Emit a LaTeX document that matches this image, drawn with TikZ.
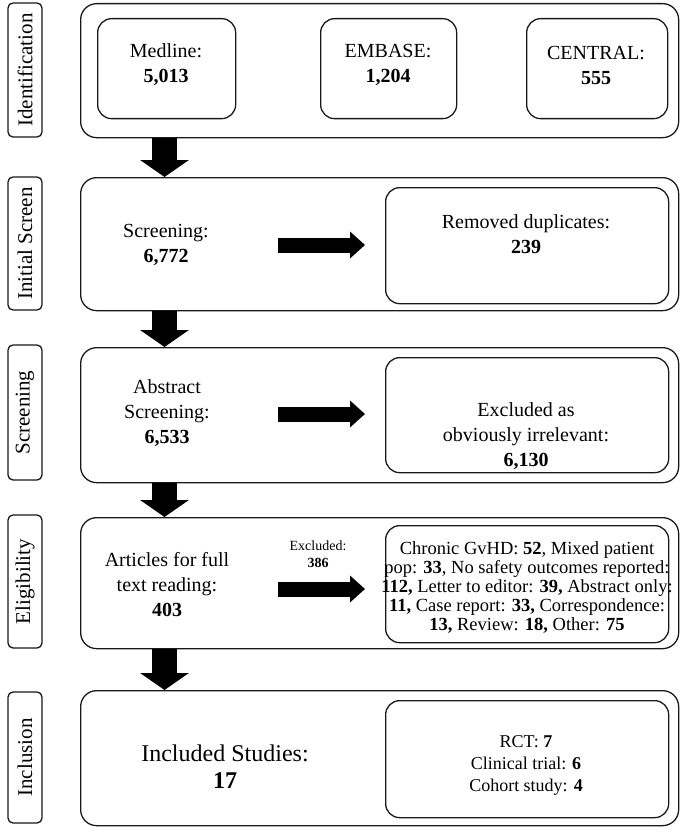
\documentclass[tikz,border=0pt]{standalone}
\usepackage{fontspec}
\setmainfont{Liberation Serif}
\usetikzlibrary{arrows.meta}
\begin{document}
\begin{tikzpicture}[x=1pt,y=-1pt,
  outerbox/.style={draw=black!90, line width=1.3pt, rounded corners=16pt, anchor=north west, inner sep=0pt},
  innerbox/.style={draw=black!90, line width=1.3pt, rounded corners=14pt, anchor=north west, inner sep=0pt},
  labelbox/.style={draw=black!90, line width=1.3pt, rounded corners=5pt, rotate=90, minimum height=34pt, inner sep=0pt, font=\fontsize{21pt}{25pt}\selectfont},
  txt/.style={align=center, inner sep=0pt, font=\fontsize{20pt}{25pt}\selectfont},
  smalltxt/.style={align=center, inner sep=0pt, font=\fontsize{18.5pt}{19pt}\selectfont},
  midtxt/.style={align=center, inner sep=0pt, font=\fontsize{18pt}{22pt}\selectfont},
  tinytxt/.style={align=center, inner sep=0pt, font=\fontsize{14pt}{17pt}\selectfont},
  bigtxt/.style={align=center, inner sep=0pt, font=\fontsize{24pt}{27pt}\selectfont},
  downarrow/.style={line width=25pt, -{Triangle[length=17pt,width=48pt]}},
  rightarrow/.style={line width=15pt, -{Triangle[length=15pt,width=26pt]}}
]
\useasboundingbox (0,0) rectangle (685,832);

% stage labels
\node[labelbox, minimum width=134pt] (l1) at (25,70) {Identification};
\node[labelbox, minimum width=133pt] (l2) at (25,243.5) {Initial Screen};
\node[labelbox, minimum width=135pt] (l3) at (25,412.5) {Screening};
\node[labelbox, minimum width=133pt] (l4) at (25,581.5) {Eligibility};
\node[labelbox, minimum width=131pt] (l5) at (25,757.5) {Inclusion};

% outer boxes
\node[outerbox, minimum width=598pt, minimum height=134pt] (b1) at (80,3) {};
\node[outerbox, minimum width=598pt, minimum height=133pt] (b2) at (80,177) {};
\node[outerbox, minimum width=598pt, minimum height=135pt] (b3) at (80,347) {};
\node[outerbox, minimum width=598pt, minimum height=131pt] (b4) at (80,517) {};
\node[outerbox, minimum width=598pt, minimum height=135pt] (b5) at (80,690) {};

% inner boxes
\node[innerbox, minimum width=138pt, minimum height=100pt] (med) at (97,18) {};
\node[innerbox, minimum width=136pt, minimum height=100pt] (emb) at (320,18) {};
\node[innerbox, minimum width=141pt, minimum height=100pt] (cen) at (526,18) {};
\node[innerbox, minimum width=283pt, minimum height=116pt] (dup) at (385,187) {};
\node[innerbox, minimum width=283pt, minimum height=115pt] (irr) at (385,357) {};
\node[innerbox, minimum width=283pt, minimum height=117pt] (exc) at (385,525) {};
\node[innerbox, minimum width=283pt, minimum height=117pt] (typ) at (385,700) {};

% texts
\node[txt] (tmed) at (166,65) {Medline:\\\textbf{5,013}};
\node[txt] (temb) at (388,65) {EMBASE:\\\textbf{1,204}};
\node[txt] (tcen) at (596,65) {CENTRAL:\\\textbf{555}};
\node[txt] (tscr) at (166,245) {Screening:\\\textbf{6,772}};
\node[txt] (tdup) at (526,234) {Removed duplicates:\\\textbf{239}};
\node[txt] (tabs) at (167,413) {Abstract\\Screening:\\\textbf{6,533}};
\node[txt] (tirr) at (526,436) {Excluded as\\obviously irrelevant:\\\textbf{6,130}};
\node[txt] (tart) at (167,585) {Articles for full\\text reading:\\\textbf{403}};
\node[tinytxt] (texl) at (318,554) {Excluded:\\\textbf{386}};
\node[smalltxt] (texc) at (527,587.5) {Chronic GvHD: \textbf{52}, Mixed patient\\
pop: \textbf{33}, No safety outcomes reported:\\
\textbf{112,} Letter to editor: \textbf{39,} Abstract only:\\
\textbf{11,} Case report: \textbf{33,} Correspondence:\\
\textbf{13,} Review: \textbf{18,} Other: \textbf{75}};
\node[bigtxt] (tinc) at (225,767) {Included Studies:\\\textbf{17}};
\node[midtxt] (ttyp) at (526,765) {RCT: \textbf{7}\\Clinical trial: \textbf{6}\\Cohort study: \textbf{4}};

% down arrows
\coordinate (ax) at (164.5,0);
\draw[downarrow] (b1.south -| ax) -- (b2.north -| ax);
\draw[downarrow] (b2.south -| ax) -- (b3.north -| ax);
\draw[downarrow] (b3.south -| ax) -- (b4.north -| ax);
\draw[downarrow] (b4.south -| ax) -- (b5.north -| ax);

% right arrows
\coordinate (r2a) at (278,245); \coordinate (r2b) at (365,245);
\coordinate (r3a) at (278,414); \coordinate (r3b) at (365,414);
\coordinate (r4a) at (278,589); \coordinate (r4b) at (365,589);
\draw[rightarrow] (r2a) -- (r2b);
\draw[rightarrow] (r3a) -- (r3b);
\draw[rightarrow] (r4a) -- (r4b);
\end{tikzpicture}
\end{document}
